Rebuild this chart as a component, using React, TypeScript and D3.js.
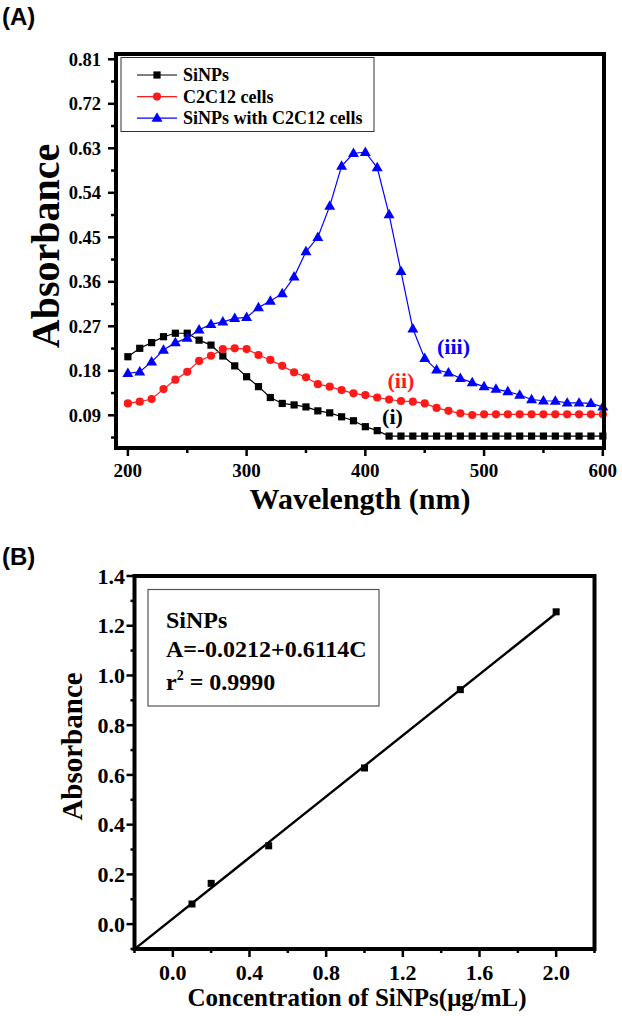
import React from "react";
import * as d3 from "d3";

// ---------- Panel A data ----------
const wavelengths = [
  200, 210, 220, 230, 240, 250, 260, 270, 280, 290, 300, 310, 320, 330, 340, 350, 360, 370, 380, 390, 400,
  410, 420, 430, 440, 450, 460, 470, 480, 490, 500, 510, 520, 530, 540, 550, 560, 570, 580, 590, 600,
];
const siNPs = [
  0.2085, 0.2255, 0.237, 0.249, 0.256, 0.256, 0.242, 0.232, 0.21, 0.19, 0.168, 0.148, 0.126, 0.114, 0.111,
  0.107, 0.099, 0.095, 0.087, 0.079, 0.067, 0.059, 0.048, 0.048, 0.048, 0.048, 0.048, 0.048, 0.048, 0.048,
  0.048, 0.048, 0.048, 0.048, 0.048, 0.048, 0.048, 0.048, 0.048, 0.048, 0.048,
];
const c2c12 = [
  0.114, 0.1175, 0.123, 0.143, 0.162, 0.178, 0.2, 0.2105, 0.224, 0.2255, 0.224, 0.212, 0.202, 0.19, 0.177,
  0.167, 0.153, 0.148, 0.141, 0.1345, 0.131, 0.126, 0.122, 0.119, 0.1175, 0.114, 0.105, 0.099, 0.094, 0.0906,
  0.092, 0.092, 0.092, 0.092, 0.092, 0.092, 0.092, 0.092, 0.092, 0.092, 0.092,
];
const siNPsCells = [
  0.175, 0.178, 0.198, 0.222, 0.237, 0.246, 0.263, 0.274, 0.279, 0.286, 0.288, 0.308, 0.321, 0.336, 0.37,
  0.421, 0.45, 0.513, 0.594, 0.62, 0.622, 0.591, 0.496, 0.381, 0.265, 0.205, 0.182, 0.176, 0.165, 0.156,
  0.148, 0.143, 0.138, 0.131, 0.122, 0.1195, 0.119, 0.115, 0.115, 0.114, 0.107,
];
const yTicksA = [0.09, 0.18, 0.27, 0.36, 0.45, 0.54, 0.63, 0.72, 0.81];
const yMinorA = [0.045, 0.135, 0.225, 0.315, 0.405, 0.495, 0.585, 0.675, 0.765];
const xTicksA = [200, 300, 400, 500, 600];
const xMinorA = [250, 350, 450, 550];
const legendA = ["SiNPs", "C2C12 cells", "SiNPs with C2C12 cells"];

// ---------- Panel B data ----------
const conc = [0.1, 0.2, 0.5, 1.0, 1.5, 2.0];
const absB = [0.081, 0.164, 0.315, 0.628, 0.943, 1.256];
const xTicksB = [0.0, 0.4, 0.8, 1.2, 1.6, 2.0];
const xMinorB = [-0.2, 0.2, 0.6, 1.0, 1.4, 1.8, 2.2];
const yTicksB = [0.0, 0.2, 0.4, 0.6, 0.8, 1.0, 1.2, 1.4];
const yMinorB = [-0.1, 0.1, 0.3, 0.5, 0.7, 0.9, 1.1, 1.3];

const SERIF = "'Liberation Serif', 'Times New Roman', serif";
const SANS = "'Liberation Sans', Arial, sans-serif";
const BLUE = "#0000ff";
const RED = "#ff1a1a";

function Marker({ kind, x, y, color }: { kind: string; x: number; y: number; color: string }) {
  if (kind === "square") return <rect x={x - 3.6} y={y - 3.6} width={7.2} height={7.2} fill={color} />;
  if (kind === "circle") return <circle cx={x} cy={y} r={4.1} fill={color} />;
  const tri = d3.symbol().type(d3.symbolTriangle).size(52)();
  return <path d={tri || ""} transform={`translate(${x},${y + 0.5})`} fill={color} />;
}

export default function App() {
  // Panel A scales
  const xA = d3.scaleLinear().domain([190, 601]).range([116, 604]);
  const yA = d3.scaleLinear().domain([0.0239, 0.8207]).range([448, 54]);
  const lineA = d3
    .line<number>()
    .x((_, i) => xA(wavelengths[i]))
    .y((d) => yA(d));
  const seriesA = [
    { vals: siNPs, color: "#000", kind: "square" },
    { vals: c2c12, color: RED, kind: "circle" },
    { vals: siNPsCells, color: BLUE, kind: "triangle" },
  ];

  // Panel B scales
  const xB = d3.scaleLinear().domain([-0.2, 2.2]).range([134.5, 594.5]);
  const yB = d3.scaleLinear().domain([-0.1, 1.4]).range([949, 576]);
  const mx = d3.mean(conc) as number;
  const my = d3.mean(absB) as number;
  const sxy = d3.sum(conc.map((c, i) => (c - mx) * (absB[i] - my)));
  const sxx = d3.sum(conc.map((c) => (c - mx) * (c - mx)));
  const slope = sxy / sxx;
  const icpt = my - slope * mx;
  const fitX = [xB.domain()[0], d3.max(conc) as number];
  const fitLine = d3
    .line<number>()
    .x((c) => xB(c))
    .y((c) => yB(icpt + slope * c));

  const [ax0, ax1] = xA.range();
  const [ay0, ay1] = yA.range();
  const [bx0, bx1] = xB.range();
  const [by0, by1] = yB.range();

  return (
    <svg width={622} height={1016} style={{ position: "absolute", left: 0, top: 0, background: "#fff" }}>
      <rect x={0} y={0} width={622} height={1016} fill="#fff" />
      {/* ===== Panel A ===== */}
      <text x={2} y={25} fontFamily={SANS} fontWeight="bold" fontSize={24}>
        (A)
      </text>
      {/* series */}
      {seriesA.map((s, si) => (
        <g key={si}>
          <path d={lineA(s.vals) || ""} fill="none" stroke={s.color} strokeWidth={1.2} />
          {s.vals.map((v, i) => (
            <Marker key={i} kind={s.kind} x={xA(wavelengths[i])} y={yA(v)} color={s.color} />
          ))}
        </g>
      ))}
      {/* frame */}
      <rect x={ax0} y={ay1} width={ax1 - ax0} height={ay0 - ay1} fill="none" stroke="#000" strokeWidth={4} />
      {/* y ticks */}
      {yTicksA.map((t) => (
        <g key={t}>
          <line x1={ax0 - 8} x2={ax0} y1={yA(t)} y2={yA(t)} stroke="#000" strokeWidth={2.5} />
          <text x={101} y={yA(t)} dy="0.35em" textAnchor="end" fontFamily={SERIF} fontWeight="bold" fontSize={18.5}>
            {t.toFixed(2)}
          </text>
        </g>
      ))}
      {yMinorA.map((t) => (
        <line key={t} x1={ax0 - 5} x2={ax0} y1={yA(t)} y2={yA(t)} stroke="#000" strokeWidth={2.5} />
      ))}
      {/* x ticks */}
      {xTicksA.map((t) => (
        <g key={t}>
          <line x1={xA(t)} x2={xA(t)} y1={ay0} y2={ay0 + 8} stroke="#000" strokeWidth={2.5} />
          <text x={xA(t)} y={477} textAnchor="middle" fontFamily={SERIF} fontWeight="bold" fontSize={19}>
            {t}
          </text>
        </g>
      ))}
      {xMinorA.map((t) => (
        <line key={t} x1={xA(t)} x2={xA(t)} y1={ay0} y2={ay0 + 5} stroke="#000" strokeWidth={2.5} />
      ))}
      {/* axis titles */}
      <text x={360} y={509} textAnchor="middle" fontFamily={SERIF} fontWeight="bold" fontSize={30}>
        Wavelength (nm)
      </text>
      <text
        transform={`translate(59,246) rotate(-90)`}
        textAnchor="middle"
        fontFamily={SERIF}
        fontWeight="bold"
        fontSize={40}
      >
        Absorbance
      </text>
      {/* legend */}
      <rect x={121} y={57.5} width={253} height={74} fill="#fff" stroke="#333" strokeWidth={1} />
      {legendA.map((name, i) => {
        const yy = 75 + i * 21.6;
        const s = seriesA[i];
        return (
          <g key={name}>
            <line x1={137} x2={177} y1={yy} y2={yy} stroke={s.color} strokeWidth={1.2} />
            <Marker kind={s.kind} x={157} y={yy} color={s.color} />
            <text x={183} y={yy + 6} fontFamily={SERIF} fontWeight="bold" fontSize={18}>
              {name}
            </text>
          </g>
        );
      })}
      {/* annotations */}
      <text x={392.5} y={424} textAnchor="middle" fontFamily={SERIF} fontWeight="bold" fontSize={22} fill="#000">
        (i)
      </text>
      <text x={401} y={388} textAnchor="middle" fontFamily={SERIF} fontWeight="bold" fontSize={22} fill={RED}>
        (ii)
      </text>
      <text x={453.5} y={354} textAnchor="middle" fontFamily={SERIF} fontWeight="bold" fontSize={22} fill={BLUE}>
        (iii)
      </text>

      {/* ===== Panel B ===== */}
      <text x={2} y={565} fontFamily={SANS} fontWeight="bold" fontSize={24}>
        (B)
      </text>
      <path d={fitLine(fitX) || ""} fill="none" stroke="#000" strokeWidth={2.4} />
      {conc.map((c, i) => (
        <rect key={c} x={xB(c) - 3.5} y={yB(absB[i]) - 3.5} width={7} height={7} fill="#000" />
      ))}
      <rect x={bx0} y={by1} width={bx1 - bx0} height={by0 - by1} fill="none" stroke="#000" strokeWidth={4} />
      {yTicksB.map((t) => (
        <g key={t}>
          <line x1={bx0 - 8} x2={bx0} y1={yB(t)} y2={yB(t)} stroke="#000" strokeWidth={2.5} />
          <text x={125} y={yB(t)} dy="0.35em" textAnchor="end" fontFamily={SERIF} fontWeight="bold" fontSize={22}>
            {t.toFixed(1)}
          </text>
        </g>
      ))}
      {yMinorB.map((t) => (
        <line key={t} x1={bx0 - 4} x2={bx0} y1={yB(t)} y2={yB(t)} stroke="#000" strokeWidth={2.5} />
      ))}
      {xTicksB.map((t) => (
        <g key={t}>
          <line x1={xB(t)} x2={xB(t)} y1={by0} y2={by0 + 8} stroke="#000" strokeWidth={2.5} />
          <text x={xB(t)} y={980} textAnchor="middle" fontFamily={SERIF} fontWeight="bold" fontSize={22}>
            {t.toFixed(1)}
          </text>
        </g>
      ))}
      {xMinorB.map((t) => (
        <line key={t} x1={xB(t)} x2={xB(t)} y1={by0} y2={by0 + 4} stroke="#000" strokeWidth={2.5} />
      ))}
      <text x={357} y={1006} textAnchor="middle" fontFamily={SERIF} fontWeight="bold" fontSize={25}>
        Concentration of SiNPs(μg/mL)
      </text>
      <text
        transform={`translate(82,746.5) rotate(-90)`}
        textAnchor="middle"
        fontFamily={SERIF}
        fontWeight="bold"
        fontSize={29}
      >
        Absorbance
      </text>
      {/* equation box */}
      <rect x={148} y={589.5} width={231} height={116.5} fill="#fff" stroke="#555" strokeWidth={1.2} />
      <text x={166} y={628} fontFamily={SERIF} fontWeight="bold" fontSize={24}>
        SiNPs
      </text>
      <text x={166} y={657} fontFamily={SERIF} fontWeight="bold" fontSize={24}>
        A=-0.0212+0.6114C
      </text>
      <text x={166} y={690} fontFamily={SERIF} fontWeight="bold" fontSize={24}>
        r
        <tspan fontSize={14} dy={-10}>
          2
        </tspan>
        <tspan dy={10}> = 0.9990</tspan>
      </text>
    </svg>
  );
}
